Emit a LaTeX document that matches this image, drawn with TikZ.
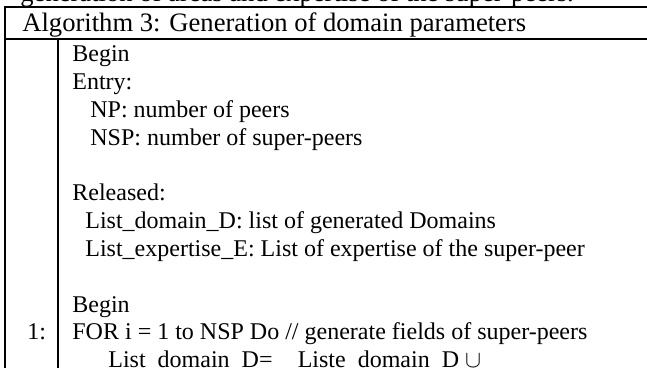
\documentclass[tikz,border=0pt]{standalone}
\usepackage{fontspec}
\setmainfont{Liberation Serif}

\tikzset{
  rule/.style={line width=1pt},
  head/.style={anchor=base west, inner sep=0pt, font=\fontsize{13.3}{16}\selectfont},
  cell/.style={anchor=base west, inner sep=0pt, font=\fontsize{12}{14}\selectfont},
}

\begin{document}
\begin{tikzpicture}[x=0.5pt, y=-0.5pt]
 \useasboundingbox (0,0) rectangle (647,368);
 \clip (0,0) rectangle (647,368);
 % sentence cut off above the table
 \node[head] (intro) at (20,2) {generation of areas and expertise of the super-peers.};
 %
 \coordinate (topL) at (5,7.5);
 \coordinate (topR) at (670,7.5);
 \coordinate (midL) at (5,39.5);
 \coordinate (midR) at (670,39.5);
 \coordinate (botL) at (5,390);
 \coordinate (sepT) at (58,39.5);
 \coordinate (sepB) at (58,390);
 \draw[rule] (topR) -- (topL) -- (botL);
 \draw[rule] (midL) -- (midR);
 \draw[rule] (sepT) -- (sepB);
 %
 \node[head] (title) at (22,32) {Algorithm 3: Generation of domain parameters};
 %
 \node[cell] (begin)    at (72,62)    {Begin};
 \node[cell] (entry)    at (72,89.8)  {Entry:};
 \node[cell] (np)       at (90,117.6) {NP: number of peers};
 \node[cell] (nsp)      at (90,145.4) {NSP: number of super-peers};
 \node[cell] (released) at (72,201)   {Released:};
 \node[cell] (domains)  at (85,228.8) {List\_domain\_D: list of generated Domains};
 \node[cell] (experts)  at (85,256.6) {List\_expertise\_E: List of expertise of the super-peer};
 \node[cell] (start)    at (72,312.2) {Begin};
 \node[cell] (num)      at (27,340)   {1:};
 \node[cell] (loop)     at (72,340)   {FOR i = 1 to NSP Do // generate fields of super-peers};
 \node[cell] (union)    at (108,367.8) {List\_domain\_D=\hspace{1.05em}Liste\_domain\_D $\cup$};
\end{tikzpicture}
\end{document}
